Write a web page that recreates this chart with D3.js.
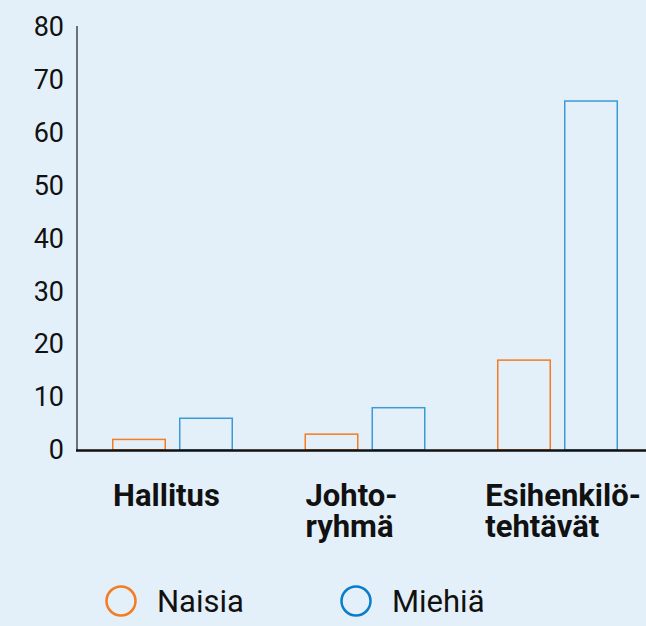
<!DOCTYPE html>
<html>
<head>
<meta charset="utf-8">
<script src="https://cdn.jsdelivr.net/npm/d3@7"></script>
<style>
  body { margin: 0; background: #e4f0f9; }
  text { font-family: Roboto, "Noto Sans", sans-serif; fill: #111; }
</style>
</head>
<body>
<div id="chart"></div>
<script>
var svgWidth = 646;
var svgHeight = 626;

// data
var categories = ["Hallitus", "Johtoryhmä", "Esihenkilötehtävät"];
var categoryLines = [["Hallitus"], ["Johto-", "ryhmä"], ["Esihenkilö-", "tehtävät"]];
var seriesNames = ["Naisia", "Miehiä"];
var naisia = [2, 3, 17];
var miehia = [6, 8, 66];
var yTicks = [0, 10, 20, 30, 40, 50, 60, 70, 80];

var colors = { "Naisia": "#f47b20", "Miehiä": "#3a9ad8" };
var legendColors = { "Naisia": "#f47b20", "Miehiä": "#0a7ccc" };

var rows = categories.map(function(c, i) {
  return { cat: c, lines: categoryLines[i], values: [
    { key: "Naisia", value: naisia[i] },
    { key: "Miehiä", value: miehia[i] }
  ]};
});

var svg = d3.select("#chart")
  .append("svg")
  .attr("width", svgWidth)
  .attr("height", svgHeight);

svg.append("rect")
  .attr("width", svgWidth)
  .attr("height", svgHeight)
  .attr("fill", "#e4f0f9");

var axisX = 77;

// scales
var yScale = d3.scaleLinear()
  .domain([0, 80])
  .range([450, 27]);

var x0 = d3.scaleBand()
  .domain(categories)
  .range([112, 112 + 3 * 192.5]);

var x1 = d3.scaleBand()
  .domain(seriesNames)
  .range([0, 121])
  .paddingInner(13 / 67);

// y axis
var leftAxis = d3.axisLeft(yScale)
  .tickValues(yTicks)
  .tickSize(0)
  .tickPadding(13);

var yAxis = svg.append("g")
  .attr("transform", `translate(${axisX}, 0)`)
  .call(leftAxis);

yAxis.select(".domain")
  .attr("stroke", "#6b7175")
  .attr("stroke-width", 2)
  .attr("d", `M0,${yScale(80) - 1}V${yScale(0)}`);

yAxis.selectAll("text")
  .attr("font-size", "27px")
  .attr("fill", "#111")
  .style("font-family", "Roboto, sans-serif");

// bars
var groups = svg.selectAll(".group")
  .data(rows)
  .enter()
  .append("g")
  .attr("class", "group")
  .attr("transform", d => `translate(${x0(d.cat)}, 0)`);

groups.selectAll("rect")
  .data(d => d.values)
  .enter()
  .append("rect")
  .attr("x", d => x1(d.key) + 0.75)
  .attr("y", d => yScale(d.value))
  .attr("width", x1.bandwidth() - 1.5)
  .attr("height", d => yScale(0) - yScale(d.value))
  .attr("fill", "none")
  .attr("stroke", d => colors[d.key])
  .attr("stroke-width", 1.5);

// baseline
svg.append("line")
  .attr("x1", axisX - 1)
  .attr("x2", svgWidth)
  .attr("y1", yScale(0) + 0.5)
  .attr("y2", yScale(0) + 0.5)
  .attr("stroke", "#111")
  .attr("stroke-width", 2.5);

// category labels, one text per line, kept inside the right edge
rows.forEach(function(row) {
  var g = svg.append("g").attr("class", "catLabel");
  var lines = g.selectAll("text")
    .data(row.lines)
    .enter()
    .append("text")
    .attr("y", (d, i) => 506 + i * 31)
    .attr("font-size", "31px")
    .attr("font-weight", "bold")
    .text(d => d);
  var w = d3.max(lines.nodes(), n => n.getComputedTextLength());
  var left = Math.min(x0(row.cat) + 1, 641 - w);
  lines.attr("x", left);
});

// legend
var legendPos = [121, 356];
var legend = svg.selectAll(".legend")
  .data(seriesNames)
  .enter()
  .append("g")
  .attr("class", "legend")
  .attr("transform", (d, i) => `translate(${legendPos[i]}, 601)`);

legend.append("circle")
  .attr("r", 14.5)
  .attr("fill", "none")
  .attr("stroke", d => legendColors[d])
  .attr("stroke-width", 2.5);

legend.append("text")
  .attr("x", 36)
  .attr("y", 11)
  .attr("font-size", "31px")
  .text(d => d);
</script>
</body>
</html>
